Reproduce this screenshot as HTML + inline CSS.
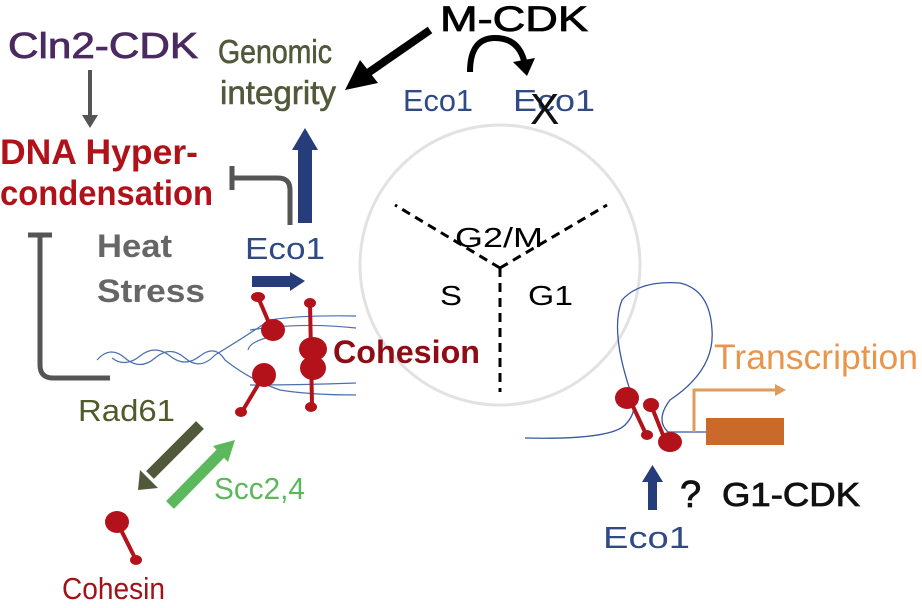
<!DOCTYPE html>
<html><head><style>body{margin:0;background:#fff}svg{display:block}text{font-family:"Liberation Sans",sans-serif}</style></head>
<body>
<svg width="922" height="608" viewBox="0 0 922 608" xmlns="http://www.w3.org/2000/svg">
<circle cx="500" cy="265" r="140" fill="none" stroke="#e2e2e2" stroke-width="3"/>
<g stroke="#000" stroke-width="3" stroke-dasharray="9,6" fill="none">
<path d="M500 268 L395 205"/><path d="M500 268 L607 205"/><path d="M500 268 L500 392"/>
</g>
<text x="455" y="247" font-size="28" textLength="88" lengthAdjust="spacingAndGlyphs">G2/M</text>
<text x="440" y="305" font-size="28" textLength="22" lengthAdjust="spacingAndGlyphs">S</text>
<text x="528" y="305" font-size="28" textLength="45" lengthAdjust="spacingAndGlyphs">G1</text>

<text x="8" y="58" font-size="36" fill="#4b2a60" stroke="#4b2a60" stroke-width="0.8" textLength="190" lengthAdjust="spacingAndGlyphs">Cln2-CDK</text>
<line x1="90" y1="70" x2="90" y2="118" stroke="#555" stroke-width="4"/>
<path d="M82 115 L90 128 L98 115z" fill="#555"/>
<text x="0" y="164" font-size="35" font-weight="bold" fill="#b0121a" textLength="198" lengthAdjust="spacingAndGlyphs">DNA Hyper-</text>
<text x="0" y="205" font-size="35" font-weight="bold" fill="#b0121a" textLength="213" lengthAdjust="spacingAndGlyphs">condensation</text>

<text x="218" y="63" font-size="33" fill="#505a3a" stroke="#505a3a" stroke-width="0.6" textLength="114" lengthAdjust="spacingAndGlyphs">Genomic</text>
<text x="220" y="104" font-size="33" fill="#505a3a" stroke="#505a3a" stroke-width="0.6" textLength="116" lengthAdjust="spacingAndGlyphs">integrity</text>
<line x1="430" y1="30" x2="365" y2="75" stroke="#000" stroke-width="8"/>
<path d="M378 83 L345 90 L360 60z" fill="#000"/>
<text x="440" y="31" font-size="35" fill="#000" stroke="#000" stroke-width="0.8" textLength="148" lengthAdjust="spacingAndGlyphs">M-CDK</text>
<path d="M470 72 Q470 38 495 38 Q520 38 525 65" fill="none" stroke="#000" stroke-width="6"/>
<path d="M513 62 L527 76 L535 58z" fill="#000"/>
<text x="403" y="111" font-size="31" fill="#2f4a85" textLength="70" lengthAdjust="spacingAndGlyphs">Eco1</text>
<text x="513" y="111" font-size="31" fill="#2f4a85" textLength="82" lengthAdjust="spacingAndGlyphs">Eco1</text>
<text x="530" y="124" font-size="44" fill="#111">X</text>

<rect x="298" y="148" width="14" height="75" fill="#263d7a"/>
<path d="M292 150 L305 128 L318 150z" fill="#263d7a"/>
<path d="M290 225 L290 190 Q290 178 278 178 L232 178" fill="none" stroke="#555" stroke-width="5"/>
<line x1="232" y1="166" x2="232" y2="190" stroke="#555" stroke-width="5"/>
<text x="245" y="259" font-size="31" fill="#2f4a85" textLength="80" lengthAdjust="spacingAndGlyphs">Eco1</text>
<rect x="252" y="276" width="40" height="11" fill="#263d7a"/>
<path d="M290 272 L305 281 L290 291z" fill="#263d7a"/>
<text x="97" y="257" font-size="32" font-weight="bold" fill="#666" textLength="75" lengthAdjust="spacingAndGlyphs">Heat</text>
<text x="97" y="302" font-size="32" font-weight="bold" fill="#666" textLength="108" lengthAdjust="spacingAndGlyphs">Stress</text>

<path d="M40 235 L40 365 Q40 378 53 378 L110 378" fill="none" stroke="#555" stroke-width="5"/>
<line x1="28" y1="235" x2="52" y2="235" stroke="#555" stroke-width="5"/>

<g fill="none" stroke="#4a70b0" stroke-width="1.2">
<path d="M97 360 Q110 345 125 358 T155 358 T185 358 T215 355 Q240 340 270 320 Q300 315 356 316"/>
<path d="M112 358 Q125 368 140 356 T170 356 T200 356 T225 360 Q250 380 280 390 Q310 395 356 395"/>
<path d="M250 330 Q300 322 356 328"/><path d="M250 385 Q300 385 356 383"/>
<path d="M280 335 Q250 340 248 350"/>
</g>
<g fill="#b3121a">
<ellipse cx="258" cy="297" rx="7" ry="5"/><line x1="258" y1="297" x2="272" y2="330" stroke="#b3121a" stroke-width="4"/>
<ellipse cx="273" cy="330" rx="12" ry="11"/>
<ellipse cx="310" cy="303" rx="6" ry="5"/><line x1="310" y1="303" x2="312" y2="405" stroke="#b3121a" stroke-width="4"/>
<ellipse cx="313" cy="349" rx="14" ry="12"/><ellipse cx="313" cy="368" rx="13" ry="12"/>
<ellipse cx="311" cy="407" rx="6" ry="5"/>
<ellipse cx="264" cy="375" rx="12" ry="12"/><line x1="264" y1="375" x2="243" y2="410" stroke="#b3121a" stroke-width="4"/>
<ellipse cx="241" cy="412" rx="6" ry="5"/>
</g>
<text x="333" y="363" font-size="32" font-weight="bold" fill="#8e0d15" textLength="147" lengthAdjust="spacingAndGlyphs">Cohesion</text>

<text x="78" y="421" font-size="31" fill="#505a2a" textLength="97" lengthAdjust="spacingAndGlyphs">Rad61</text>
<line x1="200" y1="425" x2="150" y2="475" stroke="#505a3a" stroke-width="11"/>
<path d="M140 470 L138 490 L158 488z" fill="#505a3a"/>
<line x1="170" y1="505" x2="222" y2="452" stroke="#5cb85c" stroke-width="11"/>
<path d="M213 446 L235 440 L228 462z" fill="#5cb85c"/>
<text x="214" y="499" font-size="31" fill="#5cb85c" textLength="91" lengthAdjust="spacingAndGlyphs">Scc2,4</text>
<g fill="#b3121a">
<ellipse cx="117" cy="522" rx="12" ry="11"/><line x1="117" y1="522" x2="135" y2="558" stroke="#b3121a" stroke-width="4"/><ellipse cx="136" cy="560" rx="6" ry="5"/>
</g>
<text x="62" y="599" font-size="31" fill="#a01318" textLength="103" lengthAdjust="spacingAndGlyphs">Cohesin</text>

<g fill="none" stroke="#3858a0" stroke-width="1.3">
<path d="M525 438 Q610 440 625 425 Q640 410 630 390 Q610 330 622 300 Q640 280 680 283 Q710 290 712 330 Q715 370 670 400 Q655 420 668 432 L706 432"/>
</g>
<g fill="#b3121a">
<ellipse cx="627" cy="398" rx="12" ry="11"/><ellipse cx="651" cy="405" rx="8" ry="7"/>
<line x1="630" y1="400" x2="645" y2="432" stroke="#b3121a" stroke-width="4"/>
<line x1="651" y1="405" x2="665" y2="440" stroke="#b3121a" stroke-width="4"/>
<ellipse cx="647" cy="435" rx="6" ry="5"/><ellipse cx="670" cy="442" rx="12" ry="10"/>
</g>
<path d="M694 432 L694 390 L775 390" fill="none" stroke="#e09a5a" stroke-width="3"/>
<path d="M775 384 L786 390 L775 396z" fill="#e09a5a"/>
<rect x="706" y="418" width="78" height="27" fill="#c96a2a"/>
<text x="714" y="369" font-size="35" fill="#e8964c" textLength="204" lengthAdjust="spacingAndGlyphs">Transcription</text>
<rect x="648" y="480" width="9" height="30" fill="#263d7a"/>
<path d="M642 482 L652.5 465 L663 482z" fill="#263d7a"/>
<text x="680" y="507" font-size="38" fill="#111" stroke="#111" stroke-width="0.8">?</text>
<text x="722" y="506" font-size="33" fill="#111" stroke="#111" stroke-width="0.8" textLength="138" lengthAdjust="spacingAndGlyphs">G1-CDK</text>
<text x="603" y="548" font-size="31" fill="#2f4a85" textLength="87" lengthAdjust="spacingAndGlyphs">Eco1</text>
</svg>
</body></html>
